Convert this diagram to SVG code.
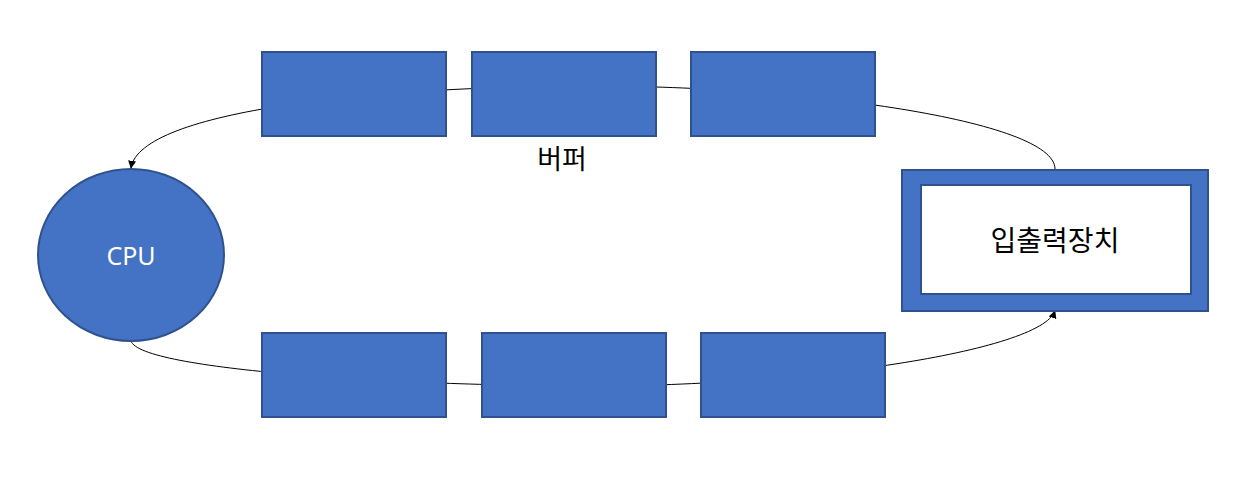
<svg xmlns="http://www.w3.org/2000/svg" width="1250" height="492" viewBox="0 0 1250 492">
<style>
.box{fill:#4472C4;stroke:#2F528F;stroke-width:2}
.conn{fill:none;stroke:#000;stroke-width:1}
.lbl{font-family:"Noto Sans CJK KR","Noto Sans",sans-serif;fill:#000;text-anchor:middle}
</style>
<defs>
<marker id="arr" viewBox="0 0 10 10" refX="9" refY="5" markerWidth="8" markerHeight="8" orient="auto" markerUnits="userSpaceOnUse">
<path d="M0,0 L10,5 L0,10 Z" fill="#000"/>
</marker>
</defs>
<rect width="1250" height="492" fill="#fff"/>
<g id="connectors">
<path class="conn" d="M1055,169 C1055,120 800,86 593,86 C380,86 140,110 131,168" marker-end="url(#arr)"/>
<path class="conn" d="M131,341 C140,370 400,386 593,386 C800,386 1040,352 1055,311" marker-end="url(#arr)"/>
</g>
<g id="buf1"><rect class="box" x="262" y="52" width="184" height="84"/></g>
<g id="buf2"><rect class="box" x="472" y="52" width="184" height="84"/></g>
<g id="buf3"><rect class="box" x="691" y="52" width="184" height="84"/></g>
<g id="buf4"><rect class="box" x="262" y="333" width="184" height="84"/></g>
<g id="buf5"><rect class="box" x="482" y="333" width="184" height="84"/></g>
<g id="buf6"><rect class="box" x="701" y="333" width="184" height="84"/></g>
<g id="bufLabel"><text class="lbl" x="562" y="169" font-size="27">버퍼</text></g>
<g id="cpu">
<ellipse class="box" cx="131" cy="255" rx="93" ry="86"/>
<text x="131" y="265" font-size="25" fill="#fff" text-anchor="middle" font-family="'Noto Sans','Open Sans',sans-serif">CPU</text>
</g>
<g id="io">
<rect class="box" x="902" y="170" width="306" height="141"/>
<rect x="921" y="185" width="270" height="109" fill="#fff" stroke="#2F528F" stroke-width="2"/>
<text class="lbl" x="1055" y="251" font-size="28">입출력장치</text>
</g>
</svg>
